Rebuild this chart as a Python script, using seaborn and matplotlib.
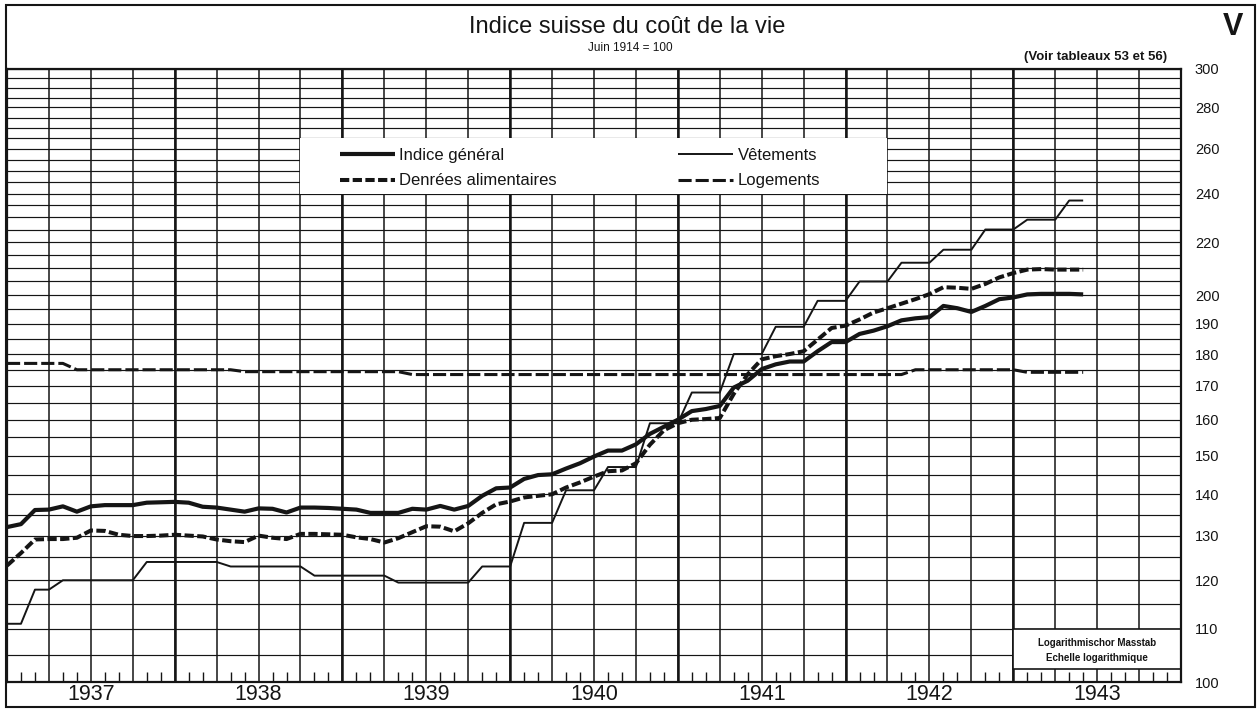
import matplotlib
matplotlib.use("Agg")
import matplotlib.pyplot as plt
import matplotlib.ticker as mticker
from matplotlib.patches import Rectangle
from matplotlib.lines import Line2D
import numpy as np
import pandas as pd
import seaborn as sns

sns.set_style("white")
plt.rcParams['font.family'] = ['Liberation Sans', 'DejaVu Sans']

# %% données : un point par mois, janvier 1937 -> juin 1943
mois = np.arange(78)
annees = [1937, 1938, 1939, 1940, 1941, 1942, 1943]

indice_general = [
    132.0, 132.7, 136.1, 136.2, 137.0, 135.7, 137.0, 137.3, 137.3, 137.3,
    137.9, 138.0, 138.1, 137.9, 136.9, 136.7, 136.2, 135.7, 136.5, 136.4,
    135.5, 136.7, 136.7, 136.6, 136.4, 136.2, 135.4, 135.4, 135.4, 136.4,
    136.2, 137.1, 136.2, 137.1, 139.6, 141.5, 141.7, 143.9, 144.9, 145.1,
    146.6, 148.0, 149.8, 151.4, 151.4, 153.1, 156.0, 158.0, 160.0, 162.5,
    163.1, 164.0, 169.5, 171.6, 175.2, 176.7, 177.6, 177.6, 180.9, 183.9,
    183.9, 186.6, 187.7, 189.2, 191.2, 191.9, 192.3, 196.2, 195.4, 194.1,
    196.2, 198.6, 199.2, 200.3, 200.5, 200.5, 200.5, 200.3,
]
denrees = [
    123.2, 126.0, 129.1, 129.2, 129.2, 129.5, 131.2, 131.1, 130.2, 129.9,
    129.9, 130.0, 130.2, 130.0, 129.8, 129.1, 128.7, 128.5, 130.0, 129.5,
    129.2, 130.4, 130.4, 130.3, 130.2, 129.6, 129.2, 128.4, 129.4, 130.8,
    132.2, 132.1, 131.0, 132.9, 135.4, 137.5, 138.2, 139.2, 139.6, 140.0,
    141.7, 143.0, 144.5, 145.9, 146.1, 148.0, 153.0, 157.0, 159.0, 160.0,
    160.2, 160.5, 167.6, 173.6, 178.3, 179.3, 180.0, 180.9, 184.7, 188.6,
    189.4, 191.5, 193.9, 195.4, 197.0, 198.6, 200.4, 202.9, 202.7, 202.3,
    204.1, 206.5, 208.1, 209.4, 209.6, 209.4, 209.4, 209.4,
]
vetements = [
    111, 111, 118, 118, 120, 120, 120, 120, 120, 120,
    124, 124, 124, 124, 124, 124, 123, 123, 123, 123,
    123, 123, 121, 121, 121, 121, 121, 121, 119.5, 119.5,
    119.5, 119.5, 119.5, 119.5, 123, 123, 123, 133, 133, 133,
    141, 141, 141, 147, 147, 147, 159, 159, 159, 168,
    168, 168, 180, 180, 180, 189, 189, 189, 198, 198,
    198, 205, 205, 205, 212, 212, 212, 217, 217, 217,
    225, 225, 225, 229, 229, 229, 237, 237,
]
logements = [
    177, 177, 177, 177, 177, 175, 175, 175, 175, 175,
    175, 175, 175, 175, 175, 175, 175, 174.4, 174.4, 174.4,
    174.4, 174.4, 174.4, 174.4, 174.4, 174.4, 174.4, 174.4, 174.4, 173.5,
    173.5, 173.5, 173.5, 173.5, 173.5, 173.5, 173.5, 173.5, 173.5, 173.5,
    173.5, 173.5, 173.5, 173.5, 173.5, 173.5, 173.5, 173.5, 173.5, 173.5,
    173.5, 173.5, 173.5, 173.5, 173.5, 173.5, 173.5, 173.5, 173.5, 173.5,
    173.5, 173.5, 173.5, 173.5, 173.5, 175, 175, 175, 175, 175,
    175, 175, 175, 174.2, 174.2, 174.2, 174.2, 174.2,
]

y_labels = [100, 110, 120, 130, 140, 150, 160, 170, 180, 190, 200,
            220, 240, 260, 280, 300]

df = pd.DataFrame({
    'date': 1937 + mois / 12,
    'Indice général': indice_general,
    'Denrées alimentaires': denrees,
    'Vêtements': vetements,
    'Logements': logements,
})

styles = {
    'Indice général': dict(lw=3.0, ls='-'),
    'Denrées alimentaires': dict(lw=2.9, ls=(0, (2.3, 0.85))),
    'Vêtements': dict(lw=1.4, ls='-'),
    'Logements': dict(lw=2.2, ls=(0, (4.3, 1.3))),
}

INK = '#151515'

# %% figure
fig = plt.figure(figsize=(12.6, 7.09), dpi=100)
ax = fig.add_axes([7 / 1260, 1 - 682 / 709, 1174 / 1260, 613 / 709])

for name, st in styles.items():
    sns.lineplot(data=df, x='date', y=name, ax=ax, color=INK, label=name,
                 legend=False, solid_capstyle='butt', dash_capstyle='butt',
                 zorder=3, **st)

# y : échelle logarithmique
ax.set_yscale('log')
ax.set_ylim(100, 300)
ax.set_yticks(y_labels, labels=[str(v) for v in y_labels])
ax.set_yticks(np.arange(100, 301, 5), minor=True)
ax.yaxis.set_minor_formatter(mticker.NullFormatter())
ax.yaxis.tick_right()
ax.tick_params(axis='y', which='both', length=0, pad=10, labelsize=10.5,
               labelcolor=INK)
ax.set_ylabel('')

# x : trimestres (grille) et mois (petits traits)
ax.set_xlim(1937, 1944)
ax.set_xticks(np.arange(1937, 1944.01, 0.25))
ax.set_xticks(1937 + np.arange(0, 85) / 12, minor=True)
ax.xaxis.set_major_formatter(mticker.NullFormatter())
ax.tick_params(axis='x', which='major', length=0)
ax.tick_params(axis='x', which='minor', direction='in', length=7, width=1.0,
               color=INK, bottom=True)
ax.set_xlabel('')

ax.set_axisbelow(True)
ax.grid(axis='y', which='both', color=INK, lw=0.85)
ax.grid(axis='x', which='major', color=INK, lw=1.1)
ax.vlines(annees[1:], 100, 300, color=INK, lw=1.8, zorder=0.8)

for s in ax.spines.values():
    s.set_color(INK)
    s.set_linewidth(1.6)

for a in annees:
    ax.text(a + 0.5, -0.021, str(a), transform=ax.get_xaxis_transform(),
            ha='center', va='center', fontsize=15.5, color=INK)

# zone blanche de la légende
ax.add_patch(Rectangle((1938.75, 240), 3.5, 25, facecolor='white',
                       edgecolor='none', zorder=1.6))

# cartouche échelle logarithmique
ax.add_patch(Rectangle((1943, 102.36), 1, 110 - 102.36, facecolor='white',
                       edgecolor=INK, lw=1.2, zorder=1.6))
ax.text(1943.5, 107.3, 'Logarithmischor Masstab', ha='center', va='center',
        fontsize=7, fontweight='bold', color=INK, zorder=4)
ax.text(1943.5, 104.4, 'Echelle logarithmique', ha='center', va='center',
        fontsize=7, fontweight='bold', color=INK, zorder=4)

handles = [Line2D([], [], color=INK, solid_capstyle='butt',
                  dash_capstyle='butt', **st) for st in styles.values()]
leg = ax.legend(handles, list(styles.keys()), ncol=2, loc='upper left',
                bbox_to_anchor=(340 / 1260, 1 - 148 / 709),
                bbox_transform=fig.transFigure, frameon=False, fontsize=12,
                handlelength=3.3, handletextpad=0.25, columnspacing=7.3,
                labelspacing=0.62, borderpad=0, borderaxespad=0)
for t in leg.get_texts():
    t.set_color(INK)
leg.set_zorder(5)

# titres
fig.text(627 / 1260, 1 - 27 / 709, 'Indice suisse du coût de la vie',
         ha='center', va='center', fontsize=17, color=INK)
fig.text(630 / 1260, 1 - 48 / 709, 'Juin 1914 = 100', ha='center',
         va='center', fontsize=8.5, color=INK)
fig.text(1233 / 1260, 1 - 27 / 709, 'V', ha='center', va='center',
         fontsize=22, fontweight='bold', color=INK)
fig.text(1096 / 1260, 1 - 57 / 709, '(Voir tableaux 53 et 56)', ha='center',
         va='center', fontsize=9.5, fontweight='bold', color=INK)

# cadre extérieur
fig.add_artist(Rectangle((6 / 1260, 1 - 707 / 709), 1249 / 1260, 702 / 709,
                         transform=fig.transFigure, fill=False,
                         edgecolor=INK, lw=1.5))

fig.savefig('out.png', dpi=100)
